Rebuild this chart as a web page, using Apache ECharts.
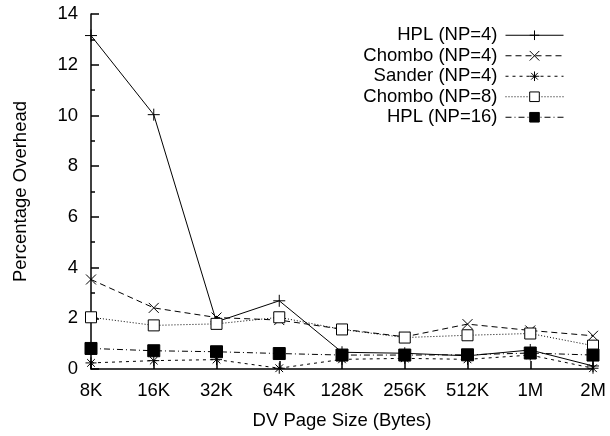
<!DOCTYPE html>
<html>
<head>
<meta charset="utf-8">
<script src="https://cdn.jsdelivr.net/npm/echarts@6/dist/echarts.min.js"></script>
<style>
  html, body { margin: 0; padding: 0; background: #fff; }
  #chart { width: 610px; height: 436px; }
</style>
</head>
<body>
<div id="chart"></div>
<script>
// page sizes on the x axis
var pageSizes = ['8K', '16K', '32K', '64K', '128K', '256K', '512K', '1M', '2M'];

// percentage overhead per series
var hpl4     = [13.15, 10.03, 1.86, 2.69, 0.66, 0.62, 0.52, 0.75, 0.12];
var chombo4  = [3.53, 2.41, 2.03, 1.93, 1.57, 1.27, 1.77, 1.52, 1.31];
var sander4  = [0.24, 0.33, 0.37, 0.03, 0.38, 0.42, 0.38, 0.55, 0.03];
var chombo8  = [2.04, 1.72, 1.78, 2.04, 1.56, 1.24, 1.33, 1.40, 0.92];
var hpl16    = [0.81, 0.72, 0.68, 0.61, 0.55, 0.55, 0.56, 0.63, 0.55];

var yTicks = { min: 0, max: 14, interval: 2 };

var plusPath = 'path://M0,5L10,5M5,0L5,10';
var crossPath = 'path://M0,0L10,10M0,10L10,0';
var starPath = 'path://M0,5L10,5M5,0L5,10M1.5,1.5L8.5,8.5M1.5,8.5L8.5,1.5';

var font = 'Liberation Sans, Arial, Helvetica, sans-serif';
var fs = 18.5;

function mkSeries(name, data, symbol, size, dash, fill) {
    return {
        name: name,
        type: 'line',
        data: data,
        symbol: symbol,
        symbolSize: size,
        showAllSymbol: true,
        lineStyle: { color: '#000', width: 1, type: dash },
        itemStyle: { color: fill, borderColor: '#000', borderWidth: 1 },
        emphasis: { disabled: true },
        z: 3
    };
}

var myChart = echarts.init(document.getElementById('chart'));

myChart.setOption({
    animation: false,
    backgroundColor: '#fff',
    textStyle: { fontFamily: font },
    grid: { left: 91, right: 17, top: 14, bottom: 67, containLabel: false },
    legend: {
        orient: 'vertical',
        right: 41,
        top: 20,
        itemGap: 0,
        itemWidth: 58,
        itemHeight: 12,
        align: 'right',
        lineStyle: { width: 1 },
        itemStyle: { borderWidth: 1 },
        textStyle: {
            fontSize: fs, color: '#000', width: 160, align: 'right',
            lineHeight: 20.5, padding: [0, 3, 0, 0], fontFamily: font
        },
        data: ['HPL (NP=4)', 'Chombo (NP=4)', 'Sander (NP=4)', 'Chombo (NP=8)', 'HPL (NP=16)']
    },
    xAxis: {
        type: 'category',
        boundaryGap: false,
        data: pageSizes,
        name: 'DV Page Size (Bytes)',
        nameLocation: 'middle',
        nameGap: 42,
        nameTextStyle: { fontSize: fs, color: '#000' },
        axisLine: { lineStyle: { color: '#000', width: 1.5 } },
        axisTick: { inside: true, length: 8, lineStyle: { color: '#000', width: 1.5 } },
        axisLabel: { fontSize: fs, color: '#000', margin: 12 },
        splitLine: { show: false }
    },
    yAxis: {
        type: 'value',
        min: yTicks.min,
        max: yTicks.max,
        interval: yTicks.interval,
        name: 'Percentage Overhead',
        nameLocation: 'middle',
        nameGap: 61,
        nameTextStyle: { fontSize: fs, color: '#000' },
        axisLine: { show: true, lineStyle: { color: '#000', width: 1.5 } },
        axisTick: { show: true, inside: true, length: 8, lineStyle: { color: '#000', width: 1.5 } },
        minorTick: { show: true, splitNumber: 2, length: 4, lineStyle: { color: '#000', width: 1.5 } },
        axisLabel: { fontSize: fs, color: '#000', margin: 13 },
        splitLine: { show: false }
    },
    series: [
        mkSeries('HPL (NP=4)', hpl4, plusPath, 12, 'solid', '#000'),
        mkSeries('Chombo (NP=4)', chombo4, crossPath, 10, [6, 4], '#000'),
        mkSeries('Sander (NP=4)', sander4, starPath, 11, [3, 4], '#000'),
        mkSeries('Chombo (NP=8)', chombo8, 'rect', 11, [1, 2], '#fff'),
        mkSeries('HPL (NP=16)', hpl16, 'rect', 12, [6, 3, 1, 3], '#000')
    ]
});
</script>
</body>
</html>
